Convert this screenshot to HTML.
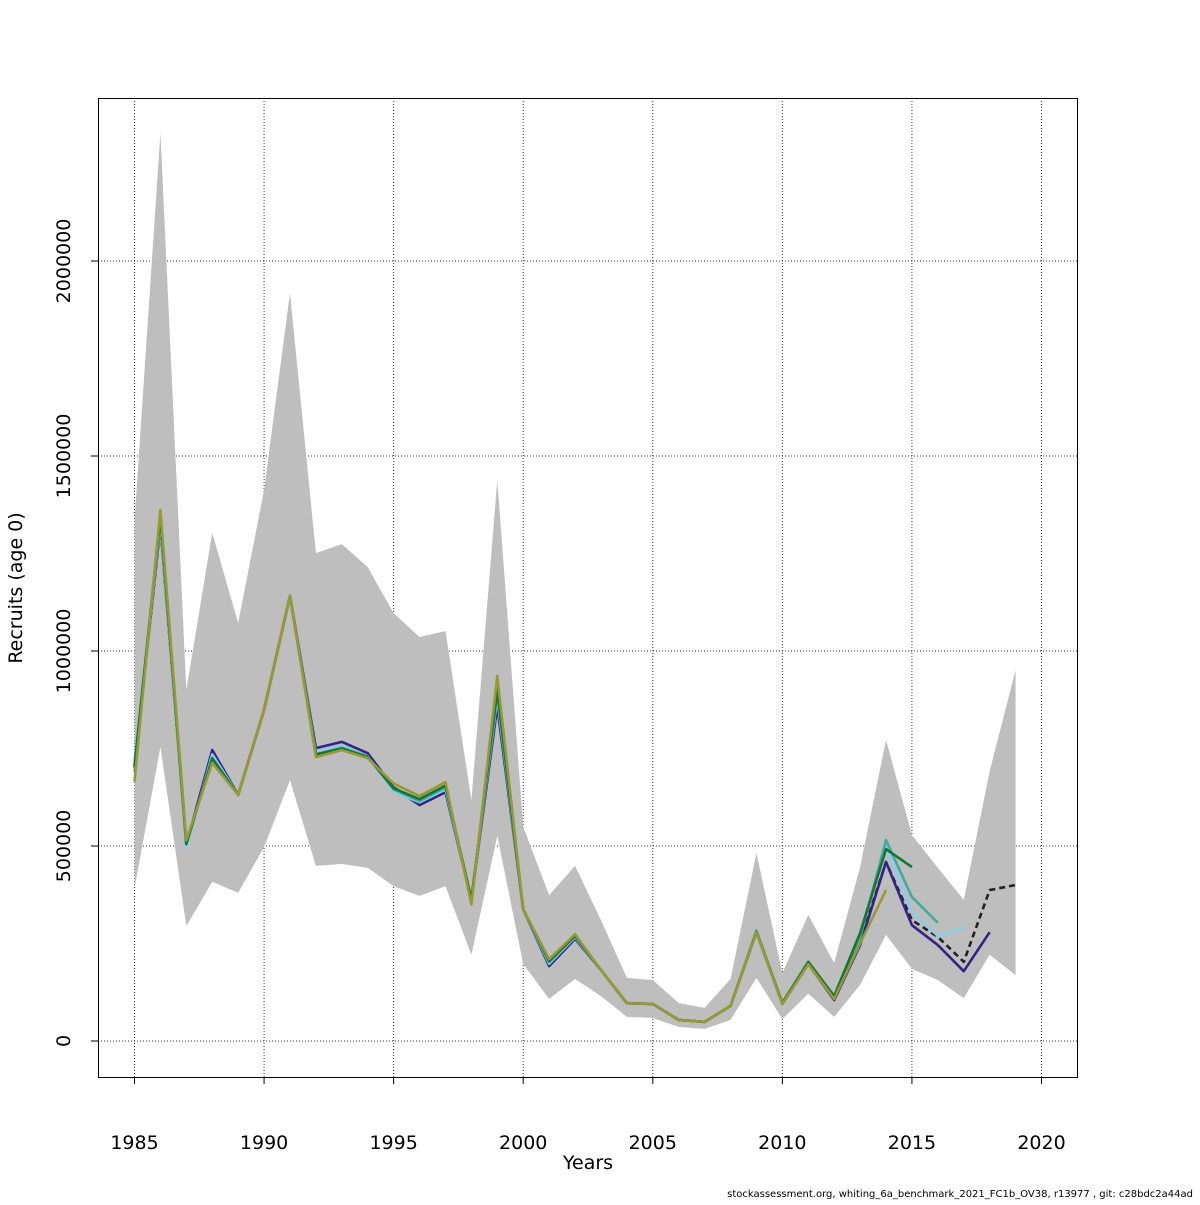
<!DOCTYPE html>
<html><head><meta charset="utf-8"><style>
body{margin:0;background:#fff;}
svg text{font-family:"DejaVu Sans","Liberation Sans",sans-serif;}
</style></head><body>
<svg id="chart" width="1200" height="1200" viewBox="0 0 1200 1200" xmlns="http://www.w3.org/2000/svg">
<rect x="0" y="0" width="1200" height="1200" fill="#fff"/>
<g id="grid"></g>
<g id="band"></g>
<g id="lines"></g>
<rect x="98.5" y="98.5" width="979" height="979" fill="none" stroke="#000" stroke-width="1"/>
<g id="axes"></g>
<text x="588" y="1169" font-size="19" text-anchor="middle">Years</text>
<text transform="translate(22,588) rotate(-90)" font-size="19" text-anchor="middle">Recruits (age 0)</text>
<text x="1193" y="1197" font-size="10" text-anchor="end">stockassessment.org, whiting_6a_benchmark_2021_FC1b_OV38, r13977 , git: c28bdc2a44ad</text>
</svg>
<script>
const years=[1985,1986,1987,1988,1989,1990,1991,1992,1993,1994,1995,1996,1997,1998,1999,2000,2001,2002,2003,2004,2005,2006,2007,2008,2009,2010,2011,2012,2013,2014,2015,2016,2017,2018,2019];
const upper=[1335,2328,900,1303,1072,1413,1918,1251,1274,1215,1097,1036,1051,618,1438,549,374,449,310,162,156,97,85,159,482,174,323,200,446,772,528,444,362,692,951];
const lower=[392,754,295,408,380,497,669,449,454,444,397,372,397,221,526,197,108,159,115,62,59,36,31,54,162,56,121,62,144,272,185,156,110,221,169];
const base=[700,1323,503,740,631,849,1141,740,755,730,650,612,645,362,880,338,200,266,182,97,95,54,49,90,279,95,197,108,255,459,310,267,203,387,400];
const peel1=[705,1323,503,746,631,849,1141,751,767,738,650,605,638,362,859,338,192,262,182,97,95,54,49,90,279,95,197,105,246,459,297,246,179,279];
const peel2=[720,1330,495,735,631,849,1141,740,757,730,640,612,645,362,880,338,198,266,182,97,95,54,49,90,279,95,197,108,270,500,331,269,290];
const peel3=[690,1340,505,725,631,849,1141,735,752,730,645,615,650,362,890,338,202,268,182,97,95,54,49,90,283,95,200,110,265,515,369,303];
const peel4=[705,1345,505,725,631,849,1141,735,750,728,648,620,655,362,900,338,205,270,182,97,95,54,49,90,280,98,203,115,277,492,446];
const peel5=[665,1362,515,713,631,849,1141,728,746,725,660,628,664,350,936,338,210,274,182,97,95,54,49,90,279,95,197,108,250,387];
const xTicks=[1985,1990,1995,2000,2005,2010,2015,2020];
const yTicks=[0,500000,1000000,1500000,2000000];
const yTickLabels=["0","500000","1000000","1500000","2000000"];

const NS="http://www.w3.org/2000/svg";
function X(yr){return 134.5+(yr-1985)*907/35;}
function Y(v){return 1041-v*780/2000000;}
function mk(tag,attrs,parent){const e=document.createElementNS(NS,tag);for(const k in attrs)e.setAttribute(k,attrs[k]);parent.appendChild(e);return e;}
const grid=document.getElementById('grid'),band=document.getElementById('band'),lines=document.getElementById('lines'),axes=document.getElementById('axes');

xTicks.forEach(t=>{
  const l=mk('line',{x1:X(t),x2:X(t),y1:98,y2:1077,stroke:'#333','stroke-width':1,'stroke-dasharray':'1,2'},grid);
  
  
  const tk=mk('line',{x1:X(t),x2:X(t),y1:1077,y2:1084,stroke:'#000'},axes);
  
  
  const tx=mk('text',{x:X(t),y:1149,'font-size':19,'text-anchor':'middle'},axes);
  tx.textContent=t;
  
  
});
yTicks.forEach((t,i)=>{
  const l=mk('line',{x1:98,x2:1077,y1:Y(t),y2:Y(t),stroke:'#333','stroke-width':1,'stroke-dasharray':'1,2'},grid);
  
  
  const tk=mk('line',{x1:91,x2:98,y1:Y(t),y2:Y(t),stroke:'#000'},axes);
  
  
  const tx=mk('text',{transform:`translate(70,${Y(t)}) rotate(-90)`,'font-size':19,'text-anchor':'middle'},axes);
  tx.textContent=yTickLabels[i];
  
  
});

let pts=years.map((y,i)=>X(y)+','+Y(upper[i]*1000));
for(let i=years.length-1;i>=0;i--)pts.push(X(years[i])+','+Y(lower[i]*1000));
const poly=mk('polygon',{points:pts.join(' '),fill:'#bebebe',stroke:'none'},band);



function line(vals,color,name,dash){
  const p=mk('polyline',{points:vals.map((v,i)=>X(years[i])+','+Y(v*1000)).join(' '),fill:'none',stroke:color,'stroke-width':2.6,'stroke-linejoin':'round'},lines);
  if(dash)p.setAttribute('stroke-dasharray',dash);
  
  
}
line(base,'#222','base-run-line','6,4');
line(peel1,'#332288','retro-peel-1-line');
line(peel2,'#88ccee','retro-peel-2-line');
line(peel3,'#44aa99','retro-peel-3-line');
line(peel4,'#117733','retro-peel-4-line');
line(peel5,'#999933','retro-peel-5-line');
</script>
</body></html>
